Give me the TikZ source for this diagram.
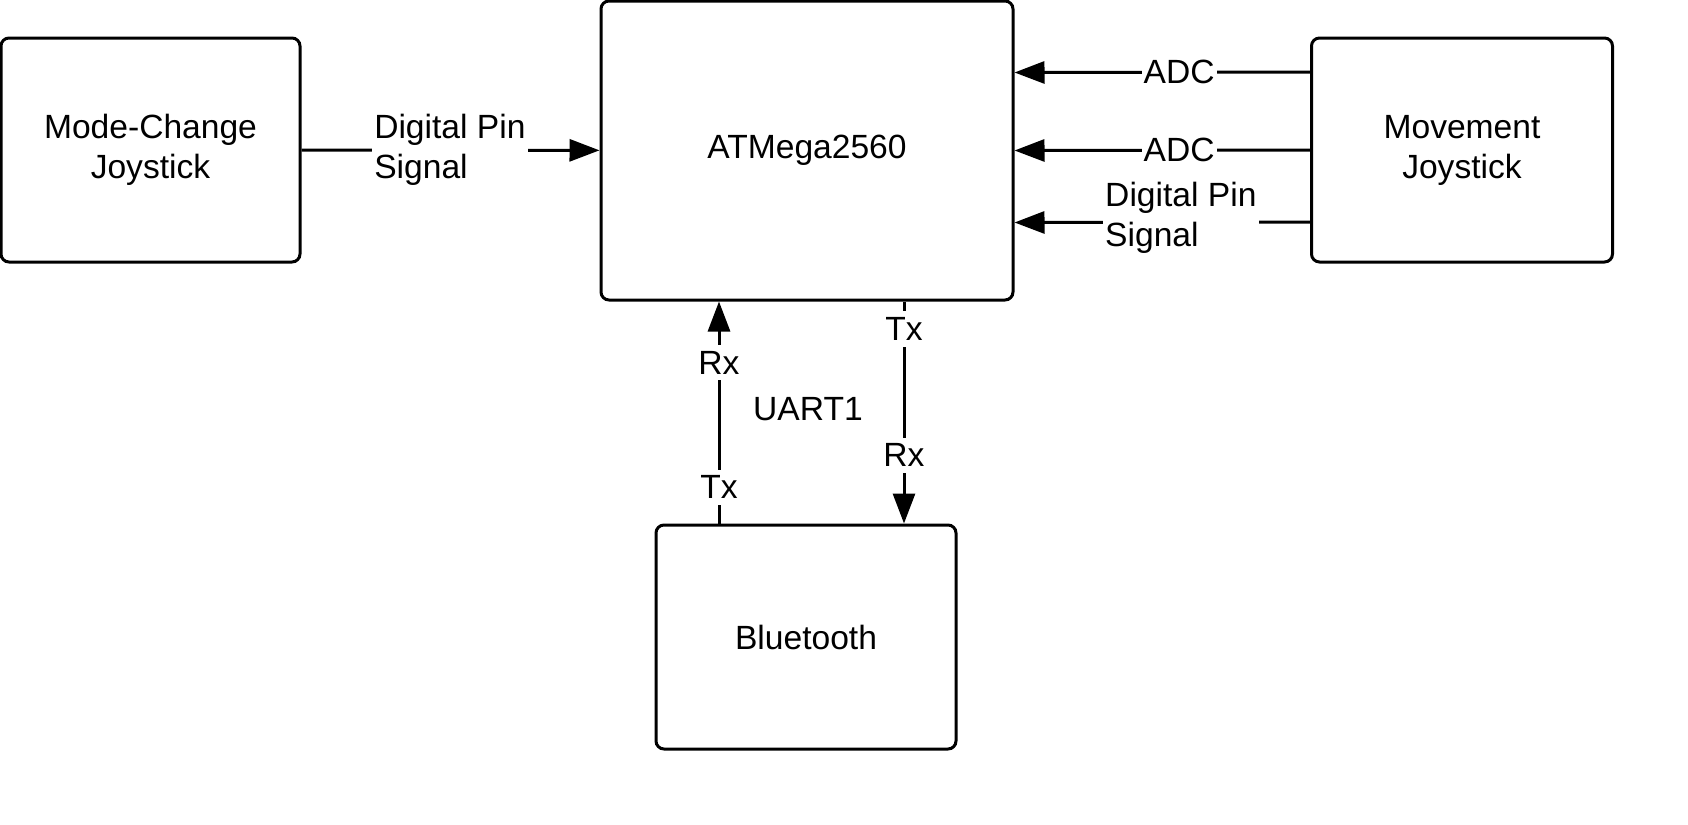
\documentclass[tikz,border=0pt]{standalone}
\usepackage{fontspec}
\setmainfont{Liberation Sans}
\usetikzlibrary{positioning,arrows.meta}

\begin{document}
\begin{tikzpicture}[x=0.5pt,y=-0.5pt,
    font=\fontsize{16.8pt}{20pt}\selectfont,
    block/.style={draw, rectangle, rounded corners=4pt, line width=1.5pt, align=center},
    wire/.style={line width=1.5pt, -{Triangle[length=15pt,width=11pt]}},
    lbl/.style={fill=white, inner xsep=1pt, inner ysep=3pt, align=left}]
    \useasboundingbox (0,0) rectangle (1688,825);

    % blocks
    \node[block, minimum width=149.5pt, minimum height=112pt] (mcj) at (150.5,150) {Mode-Change\\Joystick};
    \node[block, minimum width=206pt, minimum height=149.5pt] (mcu) at (807,150.5) {ATMega2560};
    \node[block, minimum width=150.5pt, minimum height=112pt] (mvj) at (1462,150) {Movement\\Joystick};
    \node[block, minimum width=150pt, minimum height=112pt] (bt) at (806,637) {Bluetooth};

    % joystick signals
    \draw[wire] (mcj) -- node[lbl, pos=0.498] (dpA) {Digital Pin\\Signal} (mcu);
    \draw[wire] ([yshift=39pt]mvj.west) -- node[lbl, pos=0.443] (adcA) {ADC} ([yshift=39pt]mcu.east);
    \draw[wire] (mvj.west) -- node[lbl, pos=0.443] (adcB) {ADC} (mcu.east);
    \draw[wire] ([yshift=-36pt]mvj.west) -- node[lbl, pos=0.437, yshift=2pt] (dpB) {Digital Pin\\Signal} ([yshift=-36pt]mcu.east);

    % uart lines
    \coordinate (rxline) at (719,0);
    \coordinate (txline) at (904,0);
    \draw[wire] (bt.north -| rxline) -- node[lbl, pos=0.164] (btTx) {Tx} node[lbl, pos=0.724] (mcuRx) {Rx} (mcu.south -| rxline);
    \draw[wire] (mcu.south -| txline) -- node[lbl, pos=0.124] (mcuTx) {Tx} node[lbl, pos=0.693] (btRx) {Rx} (bt.north -| txline);
    \node (uart) at (808,409) {UART1};
\end{tikzpicture}
\end{document}
